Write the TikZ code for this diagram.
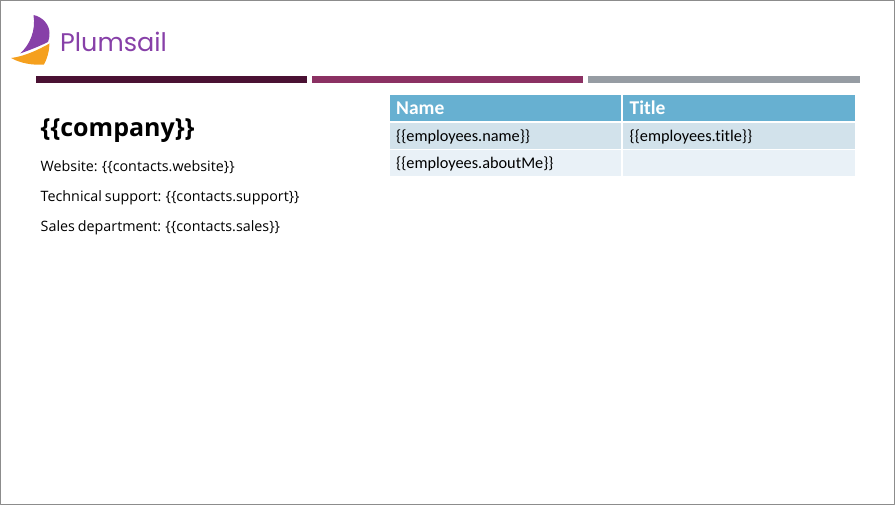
\documentclass[tikz,border=0pt]{standalone}
\usepackage{fontspec}
\setmainfont[WordSpace=0.8]{Open Sans}
\newfontfamily\tablefont[Ligatures=NoCommon]{Carlito}
\newfontfamily\logofont{Poppins}
\definecolor{barplum}{HTML}{4A1133}
\definecolor{barrose}{HTML}{8B3163}
\definecolor{bargray}{HTML}{969CA3}
\definecolor{headblue}{HTML}{67B0D1}
\definecolor{rowdark}{HTML}{D2E2EB}
\definecolor{rowlight}{HTML}{E9F1F7}
\definecolor{sailpurple}{HTML}{8740A8}
\definecolor{sailorange}{HTML}{F5A01E}
\definecolor{framegray}{HTML}{8C8C8C}
\tikzset{
	bodytext/.style = {anchor=base west, inner sep=0pt, font=\fontsize{14.3}{16}\selectfont},
	celltext/.style = {anchor=base west, inner sep=0pt, font=\tablefont\fontsize{16.3}{19}\selectfont},
	headtext/.style = {anchor=base west, inner sep=0pt, text=white, font=\tablefont\bfseries\fontsize{19.5}{22}\selectfont}
}
\begin{document}
\begin{tikzpicture}[line cap=butt,line join=round,x=1pt,y=-1pt]
	\useasboundingbox (0,0) rectangle (895,505);
	\draw[framegray,line width=1pt] (0.5,0.5) rectangle (894.5,504.5);
	% logo
	\fill[sailpurple] (33.5,15) .. controls (43,17) and (49.5,25) .. (49.5,33) .. controls (49.5,37) and (49,40) .. (48,42) .. controls (40,46) and (30,50) .. (20,53.5) .. controls (30,45) and (36,30) .. (33.5,15) -- cycle;
	\fill[sailorange] (49.5,43.5) .. controls (49.5,51) and (47,59) .. (44,64.5) .. controls (32,65.5) and (20,63) .. (11,58) .. controls (24,56.5) and (38,50) .. (49.5,43.5) -- cycle;
	\node[anchor=base west,inner sep=0pt,text=sailpurple,font=\logofont\fontsize{25.5}{30}\selectfont] (logo) at (60,52) {Plumsail};
	% bars
	\fill[barplum] (36,76) rectangle (307,83);
	\fill[barrose] (312,76) rectangle (583,83);
	\fill[bargray] (588,76) rectangle (860,83);
	% left text
	\node[anchor=base west,inner sep=0pt,font=\bfseries\fontsize{25}{30}\selectfont] (company) at (40.5,137) {\{\{company\}\}};
	\node[bodytext] (website) at (40.5,172) {Website: \{\{contacts.website\}\}};
	\node[bodytext] (support) at (40.5,202) {Technical support: \{\{contacts.support\}\}};
	\node[bodytext] (sales) at (40.5,232) {Sales department: \{\{contacts.sales\}\}};
	% table
	\fill[headblue] (390,95) rectangle (621,121);
	\fill[headblue] (623,95) rectangle (855,121);
	\fill[rowdark] (390,123) rectangle (621,149);
	\fill[rowdark] (623,123) rectangle (855,149);
	\fill[rowlight] (390,150) rectangle (621,176);
	\fill[rowlight] (623,150) rectangle (855,176);
	\node[headtext] (name) at (396,114.5) {Name};
	\node[headtext] (title) at (629.5,114.5) {Title};
	\node[celltext] (empname) at (396,141.7) {\{\{employees.name\}\}};
	\node[celltext] (emptitle) at (629.5,141.7) {\{\{employees.title\}\}};
	\node[celltext] (empabout) at (396,168.7) {\{\{employees.aboutMe\}\}};
\end{tikzpicture}
\end{document}
